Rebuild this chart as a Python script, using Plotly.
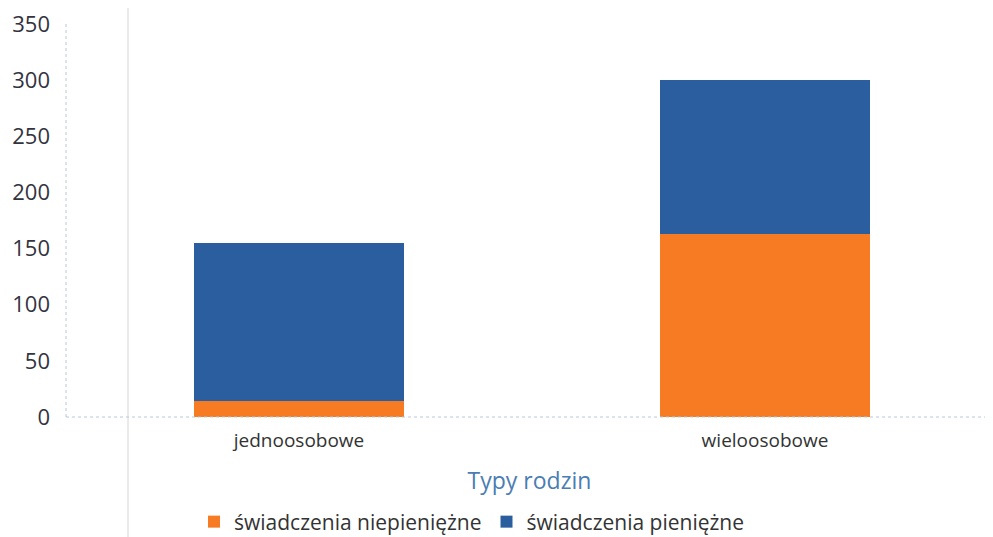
import plotly.graph_objects as go

categories = ["jednoosobowe", "wieloosobowe"]
niepieniezne = [14, 163]
pieniezne = [141, 137]
y_ticks = [0, 50, 100, 150, 200, 250, 300, 350]

fig = go.Figure()
fig.add_trace(go.Bar(
    x=categories, y=niepieniezne, name="świadczenia niepieniężne",
    marker=dict(color="#f77b22", line=dict(width=0)),
))
fig.add_trace(go.Bar(
    x=categories, y=pieniezne, name="świadczenia pieniężne",
    marker=dict(color="#2b5e9f", line=dict(width=0)),
))

# page body has an 8px margin, so figure coords = window coords - 8
L, R, T, B = 58, 0, 16, 120
W, H = 985, 529
pw = W - L - R
ph = H - T - B

fig.update_layout(
    width=W, height=H,
    barmode="stack", bargap=0.55,
    margin=dict(l=L, r=R, t=T, b=B, pad=0, autoexpand=False),
    plot_bgcolor="white", paper_bgcolor="white",
    font=dict(family="Open Sans, Noto Sans, sans-serif", size=19, color="#333333"),
    showlegend=True,
    legend=dict(orientation="h", x=(186 - L) / pw, xanchor="left", y=-(514 - (H - B)) / ph,
                yanchor="middle", font=dict(size=21, color="#333333"),
                itemsizing="constant", traceorder="normal", itemwidth=30),
    xaxis=dict(range=[-0.5, 1.5 - 5 / 466], showline=False, showgrid=False, zeroline=False,
               automargin=False, ticks="", ticklabelstandoff=10,
               tickfont=dict(size=19, color="#333333"),
               title=dict(text="Typy rodzin", font=dict(size=23, color="#4a7db3"), standoff=20)),
    yaxis=dict(range=[0, 350.01], tickvals=y_ticks, showgrid=False, zeroline=False, showline=False,
               automargin=False, ticks="", ticklabelstandoff=15, ticklabeloverflow="allow",
               tickfont=dict(size=22, color="#333340")),
)

# dotted axis lines
fig.add_shape(type="line", xref="paper", yref="paper", x0=0, x1=0, y0=0, y1=1,
              line=dict(color="#b8c8da", width=1, dash="dot"))
fig.add_shape(type="line", xref="paper", yref="paper", x0=0, x1=1, y0=0, y1=0,
              line=dict(color="#b8c8da", width=1, dash="dot"))
# faint vertical page line
xp = (120 - L) / pw
fig.add_shape(type="line", xref="paper", yref="paper", x0=xp, x1=xp, y0=-B / ph, y1=1 + T / ph,
              line=dict(color="#d6d6d6", width=1), layer="below")

fig.write_html("out.html")
